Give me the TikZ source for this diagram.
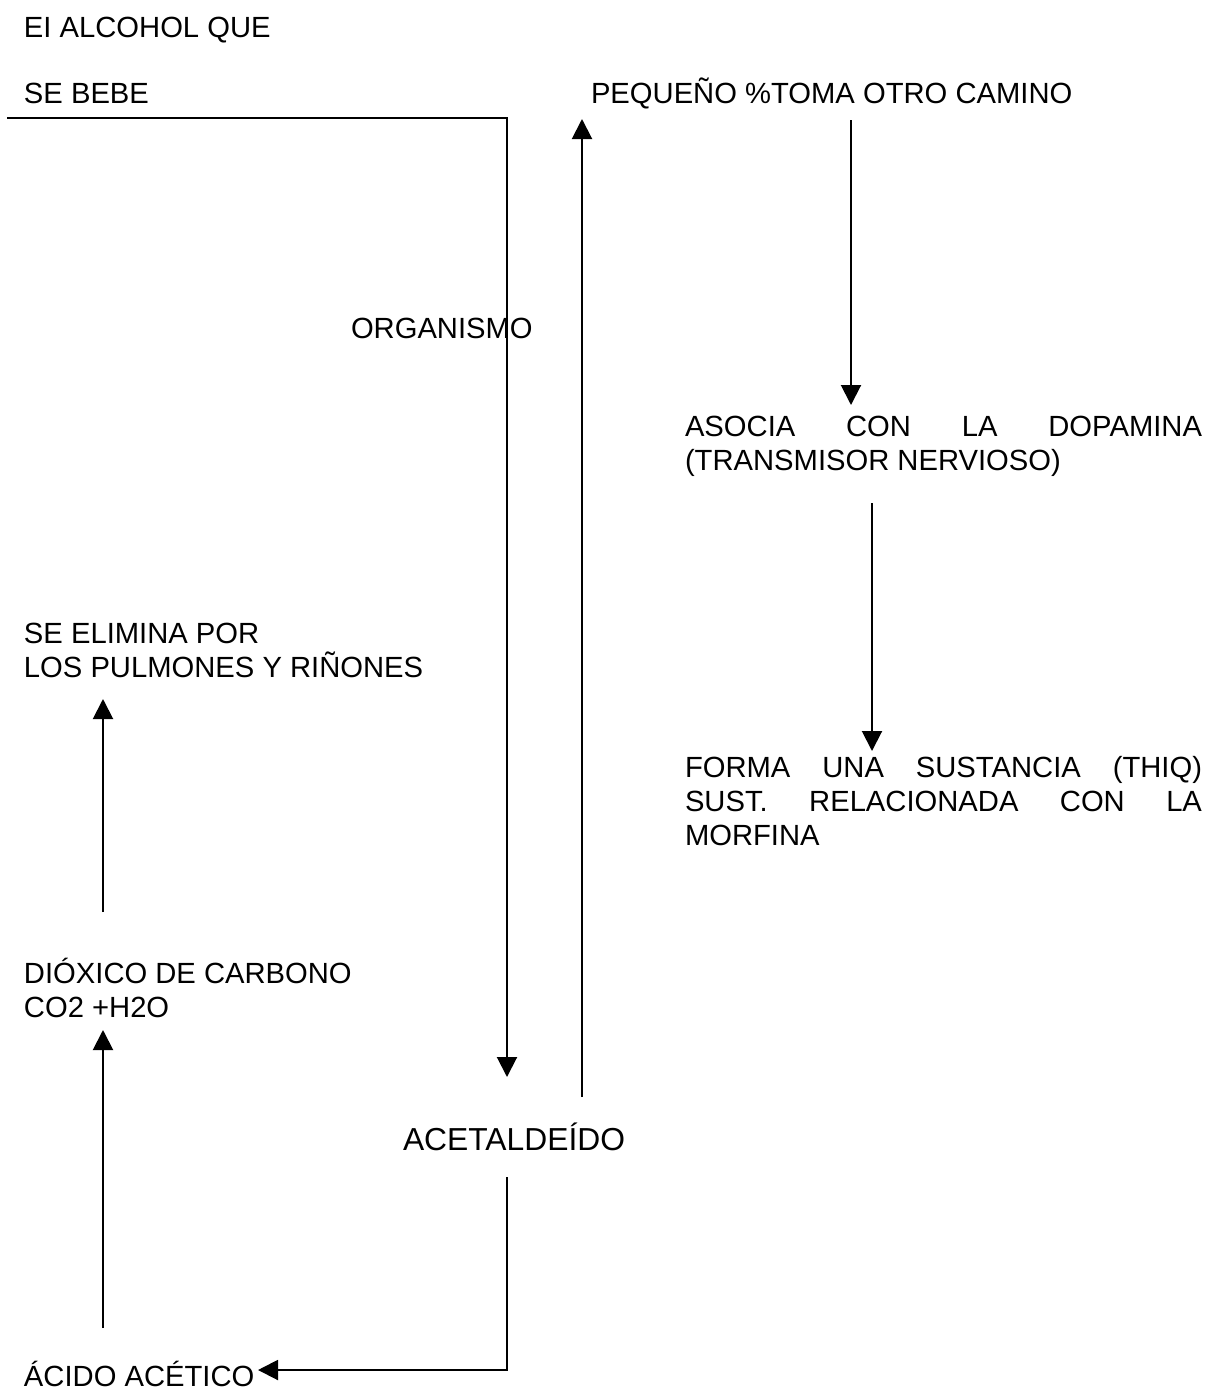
\documentclass[tikz,border=0pt]{standalone}
\usepackage{fontspec}
\setmainfont{Liberation Sans}
\usetikzlibrary{arrows.meta}
\begin{document}
\begin{tikzpicture}[x=0.5pt, y=-0.5pt, line width=1pt]

    \tikzset{texto/.style={%
      anchor=base west,%
      inner sep=0pt,%
      font=\fontsize{14.6}{17}\selectfont}%
    };

    \tikzset{parrafo/.style={texto, text width=258.5pt, align=flush left}};

    \tikzset{flecha/.style={-{Triangle[width=10pt, length=10pt]}}};

    \useasboundingbox (0,0) rectangle (1207,1393);

    %%%%%%%%%%
    % textos %
    %%%%%%%%%%
    \path (23, 37) node [texto] (alcohol) {EI ALCOHOL QUE};

    \path (23, 103.5) node [texto] (bebe) {SE BEBE};

    \path (590, 103.5) node [texto] (camino) {PEQUEÑO \%TOMA OTRO CAMINO};

    \path (350, 338.5) node [texto] (organismo) {ORGANISMO};

    \path (684, 436.5) node [parrafo] (dopamina)
      {ASOCIA\hfill CON\hfill LA\hfill DOPAMINA\\(TRANSMISOR NERVIOSO)};

    \path (684, 777.5) node [parrafo] (thiq)
      {FORMA\hfill UNA\hfill SUSTANCIA\hfill (THIQ)\\SUST.\hfill RELACIONADA\hfill CON\hfill LA\\MORFINA};

    \path (23, 643.5) node [parrafo, text width=225pt] (elimina)
      {SE ELIMINA POR\\LOS PULMONES Y RIÑONES};

    \path (23, 983.5) node [parrafo, text width=225pt] (dioxido)
      {DIÓXICO DE CARBONO\\CO2 +H2O};

    \path (402, 1150.5) node [texto, font=\fontsize{15.9}{18}\selectfont] (acetal) {ACETALDEÍDO};

    \path (23, 1386) node [texto] (acido) {ÁCIDO ACÉTICO};

    %%%%%%%%%%%%%
    % conexiones %
    %%%%%%%%%%%%%
    \coordinate (entrada) at (7, 118);
    \coordinate (llegada) at (507, 1077);
    \coordinate (sube0) at (582, 1097);
    \coordinate (sube1) at (582, 119);
    \coordinate (baja0) at (851, 120);
    \coordinate (baja1) at (851, 405);
    \coordinate (baja2) at (872, 503);
    \coordinate (baja3) at (872, 751);
    \coordinate (elim0) at (103, 912);
    \coordinate (elim1) at (103, 699);
    \coordinate (diox0) at (103, 1328);
    \coordinate (diox1) at (103, 1030);
    \coordinate (salida) at (507, 1177);
    \coordinate (acid1) at (258, 1370);

    \draw [flecha] (entrada) -| (llegada);
    \draw [flecha] (sube0) -- (sube1);
    \draw [flecha] (baja0) -- (baja1);
    \draw [flecha] (baja2) -- (baja3);
    \draw [flecha] (elim0) -- (elim1);
    \draw [flecha] (diox0) -- (diox1);
    \draw [flecha] (salida) |- (acid1);

  \end{tikzpicture}
\end{document}
